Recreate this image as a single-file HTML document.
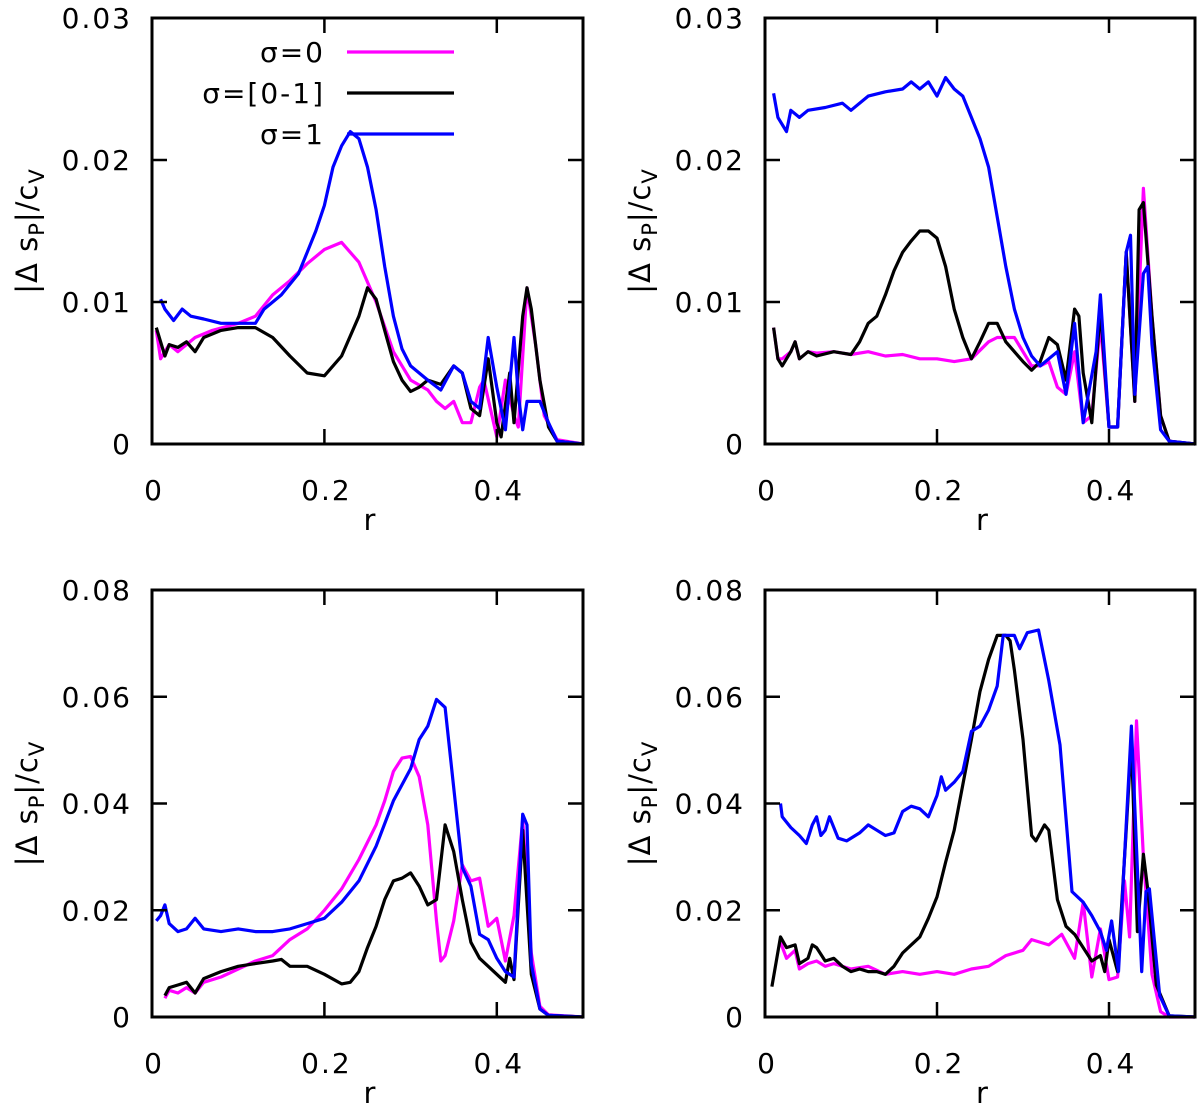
<!DOCTYPE html>
<html><head><meta charset="utf-8"><style>
body{margin:0;background:#fff;}
svg{display:block;font-family:"DejaVu Sans","Liberation Sans",sans-serif;}
</style></head><body>
<svg id="chart" width="1200" height="1111" viewBox="0 0 1200 1111" xmlns="http://www.w3.org/2000/svg"></svg>
<script>
// ---- data ----
const xTicks = [0, 0.2, 0.4];
const xTickLabels = ["0", "0.2", "0.4"];
const yTicksTop = [0, 0.01, 0.02, 0.03];
const yTickLabelsTop = ["0", "0.01", "0.02", "0.03"];
const yTicksBot = [0, 0.02, 0.04, 0.06, 0.08];
const yTickLabelsBot = ["0", "0.02", "0.04", "0.06", "0.08"];
const seriesNames = ["σ=0", "σ=[0-1]", "σ=1"];
const seriesColors = ["#ff00ff", "#000000", "#0000ff"];

// top-left
const tlMagR = [0.005,0.01,0.02,0.03,0.05,0.07,0.1,0.12,0.14,0.16,0.18,0.2,0.22,0.24,0.26,0.28,0.3,0.32,0.33,0.34,0.35,0.36,0.37,0.38,0.385,0.4,0.41,0.42,0.425,0.435,0.445,0.455,0.47,0.5];
const tlMagV = [0.008,0.006,0.007,0.0065,0.0075,0.008,0.0085,0.009,0.0105,0.0115,0.0127,0.0137,0.0142,0.0128,0.01,0.0065,0.0045,0.0038,0.003,0.0025,0.003,0.0015,0.0015,0.004,0.0045,0.0005,0.0045,0.002,0.0012,0.011,0.007,0.002,0.0003,0];
const tlBlkR = [0.005,0.015,0.02,0.03,0.04,0.05,0.06,0.08,0.1,0.12,0.14,0.16,0.18,0.2,0.22,0.24,0.25,0.26,0.27,0.28,0.29,0.3,0.31,0.32,0.335,0.35,0.36,0.37,0.38,0.39,0.4,0.405,0.415,0.42,0.43,0.435,0.44,0.45,0.46,0.47,0.5];
const tlBlkV = [0.0082,0.0062,0.007,0.0068,0.0072,0.0065,0.0075,0.008,0.0082,0.0082,0.0075,0.0062,0.005,0.0048,0.0062,0.009,0.011,0.0102,0.008,0.0058,0.0045,0.0037,0.004,0.0045,0.0042,0.0055,0.005,0.0025,0.002,0.006,0.0015,0.0005,0.005,0.0015,0.009,0.011,0.0095,0.0045,0.0012,0.0002,0];
const tlBluR = [0.01,0.015,0.025,0.035,0.045,0.06,0.08,0.1,0.12,0.13,0.15,0.17,0.18,0.19,0.2,0.21,0.22,0.23,0.24,0.25,0.26,0.27,0.28,0.29,0.3,0.32,0.335,0.35,0.36,0.37,0.38,0.39,0.4,0.41,0.42,0.425,0.43,0.435,0.45,0.46,0.47,0.5];
const tlBluV = [0.0102,0.0095,0.0087,0.0095,0.009,0.0088,0.0085,0.0085,0.0085,0.0095,0.0105,0.012,0.0135,0.015,0.0168,0.0195,0.021,0.022,0.0215,0.0195,0.0165,0.0125,0.009,0.0067,0.0055,0.0045,0.0038,0.0055,0.005,0.003,0.0025,0.0075,0.004,0.001,0.0075,0.0035,0.001,0.003,0.003,0.0015,0.0002,0];

// top-right
const trMagR = [0.01,0.015,0.02,0.03,0.035,0.04,0.05,0.06,0.08,0.1,0.12,0.14,0.16,0.18,0.2,0.22,0.24,0.26,0.27,0.29,0.3,0.31,0.32,0.33,0.34,0.35,0.36,0.37,0.38,0.39,0.4,0.41,0.42,0.43,0.44,0.45,0.46,0.47,0.5];
const trMagV = [0.0082,0.006,0.006,0.0065,0.0072,0.006,0.0065,0.0064,0.0065,0.0063,0.0065,0.0062,0.0063,0.006,0.006,0.0058,0.006,0.0072,0.0075,0.0075,0.0065,0.0055,0.0055,0.0058,0.004,0.0035,0.0065,0.0015,0.002,0.0085,0.0012,0.0012,0.0135,0.003,0.018,0.009,0.002,0.0002,0];
const trBlkR = [0.01,0.015,0.02,0.03,0.035,0.04,0.05,0.06,0.08,0.1,0.11,0.12,0.13,0.14,0.15,0.16,0.17,0.18,0.19,0.2,0.21,0.22,0.23,0.24,0.25,0.26,0.27,0.28,0.29,0.3,0.31,0.32,0.33,0.34,0.35,0.36,0.365,0.37,0.38,0.39,0.4,0.41,0.42,0.43,0.435,0.44,0.45,0.46,0.47,0.5];
const trBlkV = [0.0082,0.006,0.0055,0.0065,0.0072,0.006,0.0065,0.0062,0.0065,0.0063,0.0072,0.0085,0.009,0.0105,0.0122,0.0135,0.0143,0.015,0.015,0.0145,0.0125,0.0095,0.0075,0.006,0.0072,0.0085,0.0085,0.0072,0.0065,0.0058,0.0052,0.0058,0.0075,0.007,0.0045,0.0095,0.009,0.005,0.0015,0.0095,0.0012,0.0012,0.0135,0.003,0.0165,0.017,0.009,0.002,0.0002,0];
const trBluR = [0.01,0.015,0.025,0.03,0.04,0.05,0.07,0.09,0.1,0.12,0.14,0.16,0.17,0.18,0.19,0.2,0.21,0.22,0.23,0.24,0.25,0.26,0.27,0.28,0.29,0.3,0.31,0.32,0.33,0.34,0.35,0.36,0.37,0.385,0.39,0.4,0.41,0.42,0.425,0.43,0.44,0.445,0.45,0.46,0.47,0.5];
const trBluV = [0.0247,0.023,0.022,0.0235,0.023,0.0235,0.0237,0.024,0.0235,0.0245,0.0248,0.025,0.0255,0.025,0.0255,0.0245,0.0258,0.025,0.0245,0.023,0.0215,0.0195,0.016,0.0125,0.0095,0.0075,0.0062,0.0055,0.006,0.0065,0.0035,0.0085,0.0015,0.0065,0.0105,0.0012,0.0012,0.0135,0.0147,0.0035,0.012,0.0125,0.007,0.001,0.0002,0];

// bottom-left
const blMagR = [0.015,0.02,0.03,0.04,0.05,0.06,0.08,0.1,0.12,0.14,0.16,0.18,0.2,0.22,0.24,0.26,0.27,0.28,0.29,0.3,0.31,0.32,0.33,0.335,0.34,0.35,0.36,0.37,0.38,0.39,0.4,0.41,0.42,0.43,0.44,0.45,0.46,0.5];
const blMagV = [0.0035,0.005,0.0045,0.0055,0.0045,0.0065,0.0075,0.009,0.0105,0.0115,0.0145,0.0165,0.02,0.024,0.0295,0.036,0.0405,0.046,0.0485,0.0488,0.045,0.036,0.018,0.0105,0.0115,0.018,0.0285,0.0255,0.026,0.017,0.0185,0.0105,0.019,0.037,0.012,0.002,0.0004,0];
const blBlkR = [0.015,0.02,0.03,0.04,0.05,0.06,0.08,0.1,0.12,0.14,0.15,0.16,0.18,0.2,0.22,0.23,0.24,0.25,0.26,0.27,0.28,0.29,0.3,0.31,0.32,0.33,0.34,0.35,0.36,0.37,0.38,0.39,0.4,0.41,0.415,0.42,0.43,0.44,0.45,0.46,0.5];
const blBlkV = [0.004,0.0055,0.006,0.0065,0.0045,0.0072,0.0085,0.0095,0.01,0.0105,0.0108,0.0095,0.0095,0.008,0.0062,0.0065,0.0085,0.013,0.017,0.022,0.0255,0.026,0.027,0.0245,0.021,0.022,0.036,0.031,0.022,0.014,0.011,0.0095,0.008,0.0065,0.011,0.007,0.035,0.008,0.0015,0.0003,0];
const blBluR = [0.005,0.01,0.015,0.02,0.03,0.04,0.05,0.06,0.08,0.1,0.12,0.14,0.16,0.18,0.2,0.22,0.24,0.26,0.28,0.3,0.31,0.32,0.33,0.34,0.35,0.36,0.37,0.38,0.39,0.4,0.41,0.42,0.425,0.43,0.435,0.44,0.45,0.46,0.5];
const blBluV = [0.018,0.019,0.021,0.0175,0.016,0.0165,0.0185,0.0165,0.016,0.0165,0.016,0.016,0.0165,0.0175,0.0185,0.0215,0.0255,0.032,0.0405,0.0465,0.052,0.0545,0.0595,0.058,0.043,0.028,0.0245,0.0155,0.0145,0.011,0.0085,0.0075,0.0225,0.038,0.036,0.01,0.0015,0.0003,0];

// bottom-right
const brMagR = [0.018,0.025,0.035,0.04,0.05,0.06,0.07,0.08,0.1,0.12,0.14,0.16,0.18,0.2,0.22,0.24,0.26,0.28,0.3,0.31,0.33,0.345,0.36,0.37,0.38,0.39,0.4,0.41,0.418,0.424,0.432,0.44,0.45,0.46,0.47,0.5];
const brMagV = [0.014,0.011,0.0125,0.009,0.01,0.0105,0.0095,0.01,0.009,0.0095,0.008,0.0085,0.008,0.0085,0.008,0.009,0.0095,0.0115,0.0125,0.0145,0.0135,0.0155,0.011,0.0215,0.0075,0.0165,0.007,0.0075,0.0255,0.015,0.0555,0.03,0.008,0.001,0,0];
const brBlkR = [0.008,0.018,0.025,0.035,0.04,0.05,0.055,0.06,0.07,0.08,0.09,0.1,0.11,0.12,0.13,0.14,0.15,0.16,0.17,0.18,0.19,0.2,0.21,0.22,0.23,0.24,0.25,0.26,0.27,0.28,0.285,0.29,0.3,0.31,0.315,0.325,0.33,0.34,0.35,0.36,0.37,0.38,0.39,0.395,0.4,0.41,0.42,0.426,0.433,0.44,0.445,0.455,0.47,0.5];
const brBlkV = [0.0057,0.015,0.013,0.0135,0.01,0.011,0.0135,0.013,0.0105,0.011,0.0095,0.0085,0.009,0.0085,0.0085,0.008,0.0095,0.012,0.0135,0.015,0.0185,0.0225,0.029,0.035,0.0435,0.052,0.061,0.067,0.0715,0.0715,0.0705,0.065,0.052,0.034,0.033,0.036,0.035,0.022,0.017,0.0155,0.013,0.0105,0.0115,0.0085,0.0145,0.0085,0.035,0.052,0.016,0.0305,0.024,0.006,0.0002,0];
const brBluR = [0.018,0.02,0.03,0.04,0.048,0.055,0.06,0.065,0.07,0.075,0.085,0.095,0.11,0.12,0.13,0.14,0.15,0.16,0.17,0.18,0.19,0.2,0.205,0.21,0.22,0.23,0.24,0.25,0.26,0.27,0.277,0.29,0.296,0.305,0.318,0.33,0.343,0.357,0.37,0.38,0.39,0.397,0.403,0.411,0.426,0.438,0.443,0.447,0.459,0.47,0.5];
const brBluV = [0.04,0.0375,0.0355,0.034,0.0325,0.036,0.0375,0.034,0.035,0.0375,0.0335,0.033,0.0345,0.036,0.035,0.034,0.0345,0.0385,0.0395,0.039,0.0375,0.0415,0.045,0.0425,0.044,0.046,0.0535,0.0545,0.0575,0.062,0.0715,0.0715,0.069,0.072,0.0725,0.063,0.051,0.0235,0.0215,0.019,0.016,0.0125,0.018,0.0085,0.0545,0.0085,0.0235,0.024,0.004,0.0002,0];

// ---- drawing ----
const svg = document.getElementById('chart');
const NS = 'http://www.w3.org/2000/svg';
function mk(tag, attrs, parent){
  const e = document.createElementNS(NS, tag);
  for (const k in attrs) e.setAttribute(k, attrs[k]);
  (parent||svg).appendChild(e);
  return e;
}
function panel(name, L, R, T, B, yMax, yTicks, yLabels, series){
  const g = mk('g', {});
  
  
  const xs = r => L + (r/0.5)*(R-L);
  const ys = v => B - (v/yMax)*(B-T);
  series.forEach((s, i) => {
    const d = s.r.map((r, j) => (j ? 'L' : 'M') + xs(r).toFixed(1) + ',' + ys(s.v[j]).toFixed(1)).join('');
    const p = mk('path', {d: d, fill: 'none', stroke: seriesColors[i], 'stroke-width': 3.2, 'stroke-linejoin': 'round'}, g);
    
    
  });
  const fr = mk('rect', {x: L, y: T, width: R-L, height: B-T, fill: 'none', stroke: '#000', 'stroke-width': 3}, g);
  
  
  xTicks.forEach((t, i) => {
    const x = xs(t);
    if (t > 0) {
      mk('line', {x1: x, x2: x, y1: B, y2: B-15, stroke: '#000', 'stroke-width': 2.5}, g);
      mk('line', {x1: x, x2: x, y1: T, y2: T+15, stroke: '#000', 'stroke-width': 2.5}, g);
    }
    const tx = mk('text', {x: x+2, y: B+56, 'text-anchor': 'middle', 'font-size': 28, 'letter-spacing': 2}, g);
    tx.textContent = xTickLabels[i];
    
    
  });
  yTicks.forEach((t, i) => {
    const y = ys(t);
    if (t > 0 && t < yMax) {
      mk('line', {x1: L, x2: L+15, y1: y, y2: y, stroke: '#000', 'stroke-width': 2.5}, g);
      mk('line', {x1: R, x2: R-15, y1: y, y2: y, stroke: '#000', 'stroke-width': 2.5}, g);
    }
    const tx = mk('text', {x: L-20, y: y+10, 'text-anchor': 'end', 'font-size': 28, 'letter-spacing': 2}, g);
    tx.textContent = yLabels[i];
    
    
  });
  const xt = mk('text', {x: (L+R)/2 + 2, y: B+86, 'text-anchor': 'middle', 'font-size': 29}, g);
  xt.textContent = 'r';
  
  
  const cy = (T+B)/2;
  const yt = mk('text', {x: 0, y: 0, 'text-anchor': 'middle', 'font-size': 29, 'letter-spacing': 1, transform: 'translate(' + (L-115) + ',' + cy + ') rotate(-90)'}, g);
  yt.innerHTML = '|Δ s<tspan font-size="21" dy="7">P</tspan><tspan dy="-7">|/c</tspan><tspan font-size="21" dy="7">V</tspan>';
  
  
  return g;
}
panel('panel-top-left', 152, 583, 18, 444, 0.03, yTicksTop, yTickLabelsTop,
  [{r: tlMagR, v: tlMagV}, {r: tlBlkR, v: tlBlkV}, {r: tlBluR, v: tlBluV}]);
panel('panel-top-right', 765, 1195, 18, 444, 0.03, yTicksTop, yTickLabelsTop,
  [{r: trMagR, v: trMagV}, {r: trBlkR, v: trBlkV}, {r: trBluR, v: trBluV}]);
panel('panel-bottom-left', 152, 583, 590, 1017, 0.08, yTicksBot, yTickLabelsBot,
  [{r: blMagR, v: blMagV}, {r: blBlkR, v: blBlkV}, {r: blBluR, v: blBluV}]);
panel('panel-bottom-right', 765, 1195, 590, 1017, 0.08, yTicksBot, yTickLabelsBot,
  [{r: brMagR, v: brMagV}, {r: brBlkR, v: brBlkV}, {r: brBluR, v: brBluV}]);

// legend
const lg = mk('g', {});


const legY = [52, 93, 134];
seriesNames.forEach((n, i) => {
  const t = mk('text', {x: 325, y: legY[i]+10, 'text-anchor': 'end', 'font-size': 28, 'letter-spacing': 2}, lg);
  t.textContent = n;
  
  
  const l = mk('line', {x1: 347, x2: 454, y1: legY[i], y2: legY[i], stroke: seriesColors[i], 'stroke-width': 3.2}, lg);
  
  
});
</script>
</body></html>
